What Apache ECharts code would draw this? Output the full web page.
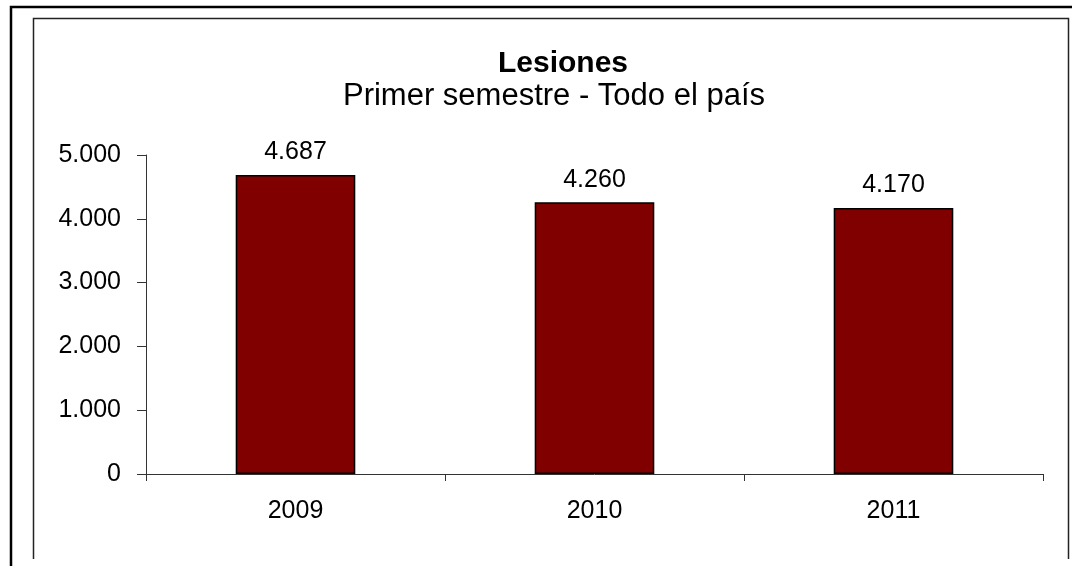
<!DOCTYPE html>
<html>
<head>
<meta charset="utf-8">
<script src="https://cdn.jsdelivr.net/npm/echarts@6/dist/echarts.min.js"></script>
<style>
  html, body { margin: 0; padding: 0; background: #fff; }
  #chart { width: 1072px; height: 566px; }
</style>
</head>
<body>
<div id="chart"></div>
<script>
// datos del gráfico
const years = ['2009', '2010', '2011']
const lesiones = [4687, 4260, 4170]
const yTicks = [0, 1000, 2000, 3000, 4000, 5000]

const fmt = (v) => String(v).replace(/\B(?=(\d{3})+(?!\d))/g, '.')

const chart = echarts.init(document.getElementById('chart'), null, { renderer: 'canvas' })

const option = {
  backgroundColor: '#fff',
  animation: false,
  textStyle: { fontFamily: 'Liberation Sans, Arial, sans-serif', color: '#000' },
  title: [
    {
      text: 'Lesiones',
      left: 558,
      textAlign: 'center',
      top: 44,
      textStyle: { fontSize: 30, fontWeight: 'bold', color: '#000', fontFamily: 'Liberation Sans' }
    },
    {
      text: 'Primer semestre - Todo el país',
      left: 549,
      textAlign: 'center',
      top: 76,
      textStyle: { fontSize: 31, fontWeight: 'normal', color: '#000', fontFamily: 'Liberation Sans' }
    }
  ],
  grid: { left: 146, right: 29, top: 155, bottom: 92 },
  xAxis: {
    type: 'category',
    data: years,
    axisLine: { lineStyle: { color: '#333', width: 1 } },
    axisTick: { show: true, length: 7, lineStyle: { color: '#333' } },
    axisLabel: { fontSize: 25, color: '#000', margin: 25 }
  },
  yAxis: {
    type: 'value',
    min: yTicks[0],
    max: yTicks[yTicks.length - 1],
    interval: 1000,
    axisLine: { show: true, lineStyle: { color: '#333', width: 1 } },
    axisTick: { show: true, length: 9, lineStyle: { color: '#333' } },
    splitLine: { show: false },
    axisLabel: { fontSize: 25, color: '#000', margin: 25, formatter: (v) => fmt(v) }
  },
  series: [
    {
      type: 'bar',
      data: lesiones,
      barWidth: '40%',
      itemStyle: { color: '#800000', borderColor: '#000', borderWidth: 1.5 },
      label: {
        show: true,
        position: 'top',
        distance: 10,
        fontSize: 25,
        color: '#000',
        formatter: (p) => fmt(p.value)
      }
    }
  ],
  graphic: [
    // marco exterior
    {
      type: 'polyline',
      shape: { points: [[11, 600], [11, 7], [1100, 7]] },
      style: { stroke: '#000', lineWidth: 2.5, fill: null }
    },
    // marco interior
    {
      type: 'polyline',
      shape: { points: [[33.5, 559], [33.5, 18.5], [1068.5, 18.5], [1068.5, 559]] },
      style: { stroke: '#222', lineWidth: 1.5, fill: null }
    }
  ]
}

chart.setOption(option)
</script>
</body>
</html>
